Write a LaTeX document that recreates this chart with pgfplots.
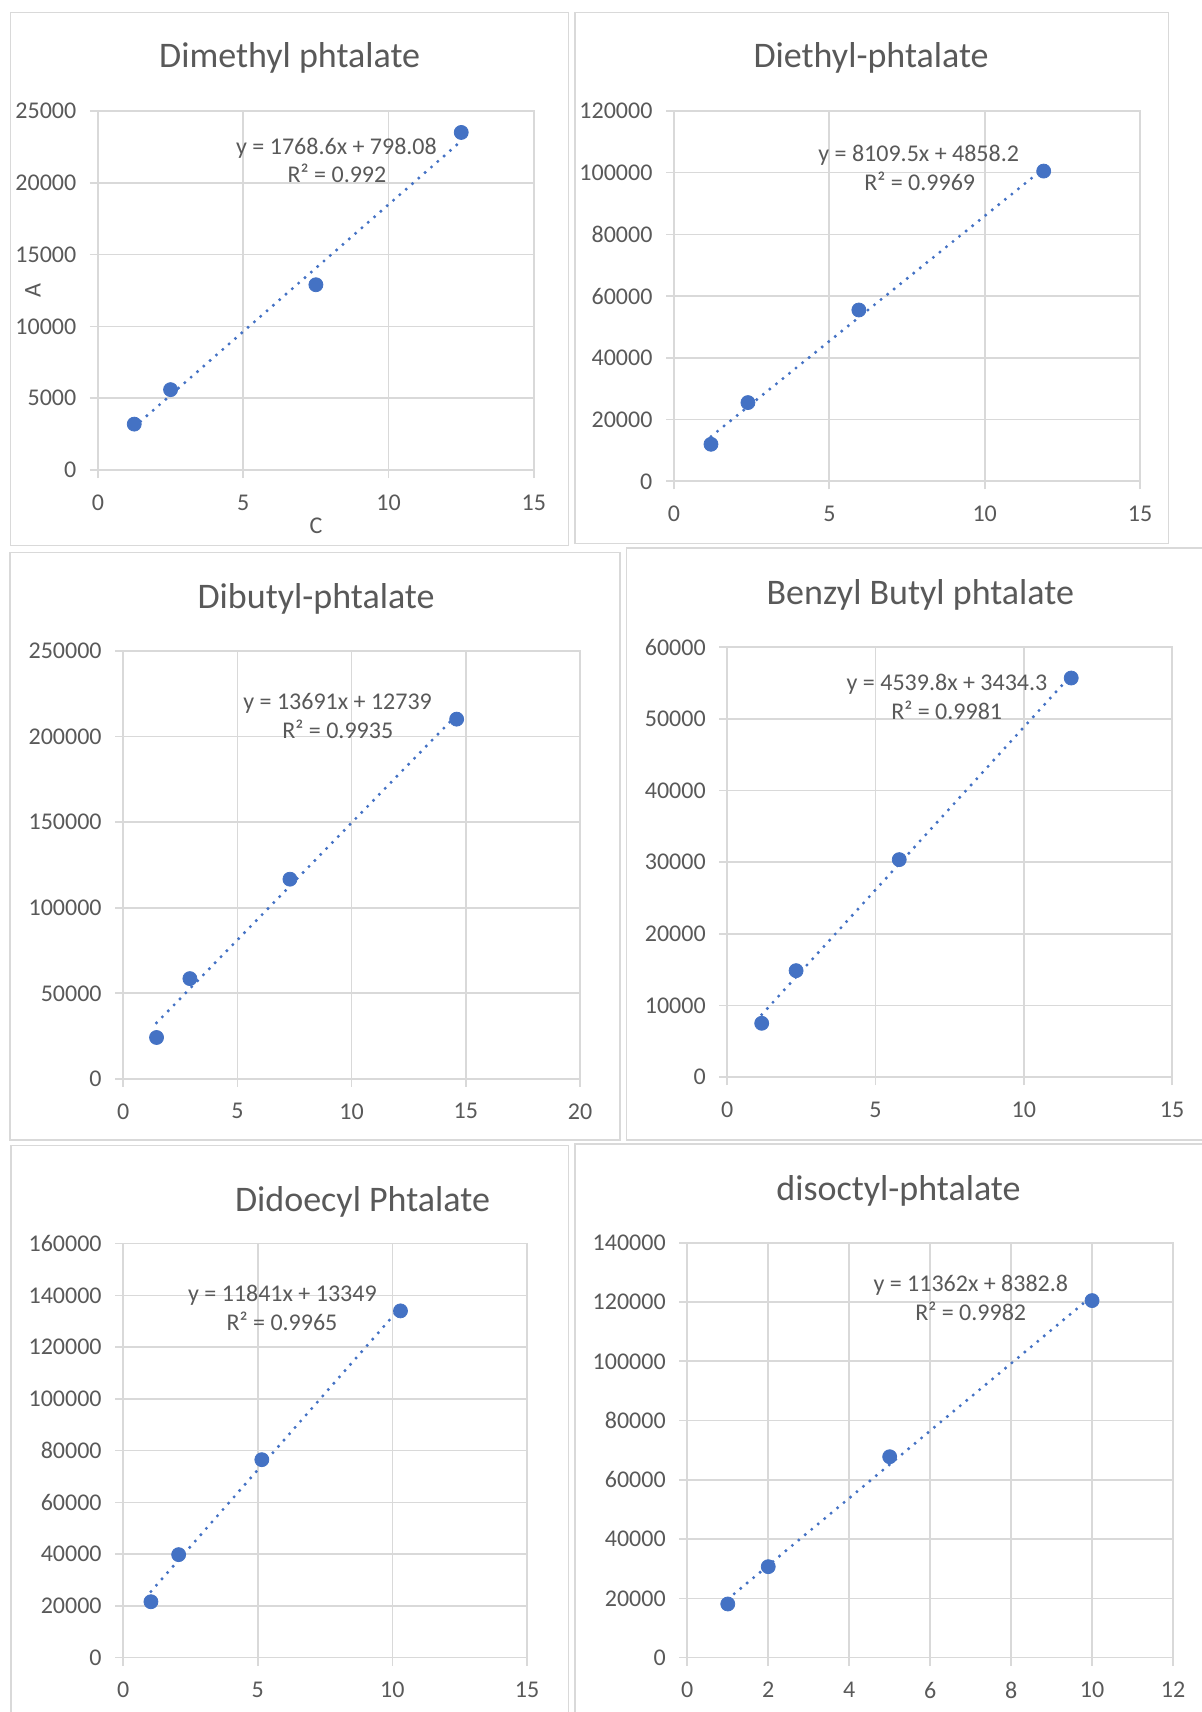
\documentclass[border=0pt]{standalone}
\usepackage{fontspec}
\setmainfont{Carlito}
\usepackage{pgfplots}
\pgfplotsset{compat=1.18}

\definecolor{txt}{HTML}{595959}
\definecolor{gridc}{HTML}{D9D9D9}
\definecolor{framec}{HTML}{D9D9D9}
\definecolor{ptc}{HTML}{4472C4}

\pgfplotsset{
  calib/.style={
    anchor=south west,
    scale only axis,
    clip=false,
    axis line style={draw=gridc, line width=0.85pt},
    grid=major,
    major grid style={draw=gridc, line width=0.85pt},
    tick style={draw=gridc, line width=0.85pt},
    tick align=outside,
    tick pos=left,
    major tick length=4pt,
    ticklabel style={font=\fontsize{12}{14}\selectfont, text=txt, inner sep=0pt},
    /pgf/number format/assume math mode=true,
    /pgf/number format/fixed,
    /pgf/number format/precision=2,
    /pgf/number format/1000 sep={},
    scaled ticks=false,
    xticklabel style={anchor=center, yshift=-12.2pt},
    yticklabel style={anchor=east, xshift=-6.6pt},
  },
  obs/.style={only marks, mark=*, mark size=3.5pt, mark options={fill=ptc, draw=ptc}},
  fit/.style={no marks, draw=ptc, line width=1.7pt, line cap=round, dash pattern=on 0pt off 4.2pt},
}

\tikzset{
  ttl/.style={anchor=base, font=\fontsize{18}{21}\selectfont, text=txt, inner sep=0pt},
  eqn/.style={anchor=base, font=\fontsize{12}{14}\selectfont, text=txt, inner sep=0pt},
  panel/.style={draw=framec, line width=0.75pt},
}

\begin{document}
\begin{tikzpicture}
\path[use as bounding box] (0pt,0pt) rectangle (601pt,-856pt);

% chart frames
\draw[panel] (5.15pt,-6.15pt) rectangle (284.2pt,-272.75pt);
\draw[panel] (287.4pt,-6.15pt) rectangle (584.3pt,-271.85pt);
\draw[panel] (5.0pt,-276.35pt) rectangle (309.9pt,-570pt);
\draw[panel] (313.35pt,-274.05pt) rectangle (604pt,-570pt);
\draw[panel] (5.5pt,-572.65pt) rectangle (284.2pt,-860pt);
\draw[panel] (287.4pt,-572.1pt) rectangle (604pt,-860pt);

% Dimethyl phtalate
\begin{axis}[calib, at={(48.95pt,-235.05pt)}, width=218pt, height=179.6pt,
  xmin=0, xmax=15, ymin=0, ymax=25000,
  xtick={0,5,10,15}, ytick={0,5000,10000,15000,20000,25000}]
\addplot[obs] coordinates {(1.25,3200) (2.5,5600) (7.5,12900) (12.5,23500)};
\addplot[fit] coordinates {(1.25,3008.8) (12.5,22905.6)};
\end{axis}
\node[ttl] at (144.85pt,-33.7pt) {Dimethyl phtalate};
\node[eqn] at (168.25pt,-77.1pt) {y = 1768.6x + 798.08};
\node[eqn] at (168.5pt,-91.5pt) {R² = 0.992};
\node[eqn, anchor=center, rotate=90] at (16.5pt,-145.25pt) {A};
\node[eqn, anchor=center] at (158pt,-263pt) {C};

% Diethyl-phtalate
\begin{axis}[calib, at={(337.0pt,-240.65pt)}, width=233pt, height=185.2pt,
  xmin=0, xmax=15, ymin=0, ymax=120000,
  xtick={0,5,10,15}, ytick={0,20000,40000,60000,80000,100000,120000}]
\addplot[obs] coordinates {(1.19,12000) (2.38,25500) (5.95,55500) (11.9,100500)};
\addplot[fit] coordinates {(1.19,14508.5) (11.9,101361.3)};
\end{axis}
\node[ttl] at (435.55pt,-33.7pt) {Diethyl-phtalate};
\node[eqn] at (459.35pt,-80.9pt) {y = 8109.5x + 4858.2};
\node[eqn] at (459.85pt,-95.3pt) {R² = 0.9969};

% Dibutyl-phtalate
\begin{axis}[calib, at={(61.6pt,-539.45pt)}, width=228.4pt, height=213.95pt,
  xmin=0, xmax=20, ymin=0, ymax=250000,
  xtick={0,5,10,15,20}, ytick={0,50000,100000,150000,200000,250000}]
\addplot[obs] coordinates {(1.46,24200) (2.92,58600) (7.3,116700) (14.6,210200)};
\addplot[fit] coordinates {(1.46,32727.9) (14.6,212627.6)};
\end{axis}
\node[ttl] at (158.05pt,-304.05pt) {Dibutyl-phtalate};
\node[eqn] at (168.8pt,-354.7pt) {y = 13691x + 12739};
\node[eqn] at (168.9pt,-369.45pt) {R² = 0.9935};

% Benzyl Butyl phtalate
\begin{axis}[calib, at={(363.65pt,-538.5pt)}, width=222.35pt, height=214.9pt,
  xmin=0, xmax=15, ymin=0, ymax=60000,
  xtick={0,5,10,15}, ytick={0,10000,20000,30000,40000,50000,60000}]
\addplot[obs] coordinates {(1.16,7500) (2.32,14850) (5.8,30350) (11.6,55700)};
\addplot[fit] coordinates {(1.16,8700.5) (11.6,56096)};
\end{axis}
\node[ttl] at (460.15pt,-302.15pt) {Benzyl Butyl phtalate};
\node[eqn] at (473.5pt,-345.15pt) {y = 4539.8x + 3434.3};
\node[eqn] at (473.35pt,-359.5pt) {R² = 0.9981};

% Didoecyl Phtalate
\begin{axis}[calib, at={(61.6pt,-828.8pt)}, width=201.9pt, height=207pt,
  xmin=0, xmax=15, ymin=0, ymax=160000,
  xtick={0,5,10,15}, ytick={0,20000,40000,60000,80000,100000,120000,140000,160000}]
\addplot[obs] coordinates {(1.03,21600) (2.06,39800) (5.15,76500) (10.3,134000)};
\addplot[fit] coordinates {(1.03,25545.2) (10.3,135311.3)};
\end{axis}
\node[ttl] at (181.25pt,-605.6pt) {Didoecyl Phtalate};
\node[eqn] at (141.2pt,-650.75pt) {y = 11841x + 13349};
\node[eqn] at (141pt,-665.1pt) {R² = 0.9965};

% disoctyl-phtalate
\begin{axis}[calib, at={(343.65pt,-828.8pt)}, width=242.85pt, height=207.4pt,
  xmin=0, xmax=12, ymin=0, ymax=140000,
  xtick={0,2,4,6,8,10,12}, ytick={0,20000,40000,60000,80000,100000,120000,140000}]
\addplot[obs] coordinates {(1,18100) (2,30700) (5,67800) (10,120500)};
\addplot[fit] coordinates {(1,19744.8) (10,122002.8)};
\end{axis}
\node[ttl] at (449.25pt,-600.25pt) {disoctyl-phtalate};
\node[eqn] at (485.4pt,-645.75pt) {y = 11362x + 8382.8};
\node[eqn] at (485.35pt,-660.1pt) {R² = 0.9982};
\end{tikzpicture}
\end{document}
